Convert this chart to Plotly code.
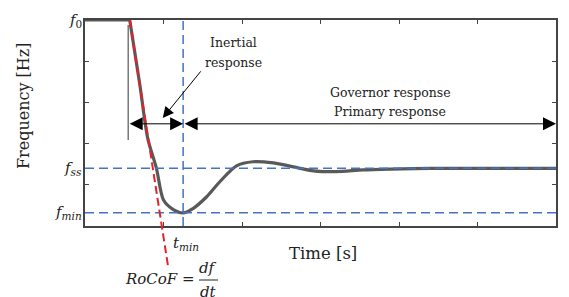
import plotly.graph_objects as go

# ---- data ----
t_flat = [0, 0.57]
f_flat = [5, 5]
t_curve = [0.57, 0.70, 0.80, 0.91, 1.00, 1.125, 1.25, 1.38, 1.55, 1.72, 1.93, 2.14, 2.40, 2.74, 2.91, 3.20, 3.54, 3.89, 4.4, 6.0]
f_curve = [5.0, 3.41, 2.12, 1.40, 0.63, 0.40, 0.32, 0.43, 0.71, 1.08, 1.46, 1.56, 1.53, 1.40, 1.34, 1.32, 1.36, 1.38, 1.40, 1.40]

F0 = 5.0
FSS = 1.40
FMIN = 0.32
T_MIN = 1.25
T_START = 0.55
T_END = 6.0
ARROW_Y = 2.48

rocof_t = [0.57, 1.06]
rocof_f = [5.0, -1.0]

marker_t = [T_START, T_START]
marker_f = [4.88, 2.09]

inertial_tail = (1.49, 3.79)
inertial_tip = (0.99, 2.62)

x_ticks = [1, 2, 3, 4, 5]
y_ticks = [1, 2, 3, 4]

# ---- layout geometry (reference pixel frame; page body has an 8px margin) ----
PAGE_OFF = 8
REF_W, REF_H = 569, 297
W, H = REF_W - PAGE_OFF, REF_H - PAGE_OFF
ML, MR, MT, MB = 85 - PAGE_OFF, 13, 20 - PAGE_OFF, 0
PW, PH = W - ML - MR, H - MT - MB
AX_BOTTOM_PX = 226
d0 = (REF_H - AX_BOTTOM_PX) / PH

def px(xp):
    return (xp - 85) / PW

def py(yp):
    return (REF_H - yp) / PH

SERIF = "DejaVu Serif"
BLUE = "#4472C4"
DASH = "9px,5px"
INK = "#222222"

fig = go.Figure()
fig.add_trace(go.Scatter(x=marker_t, y=marker_f, mode="lines",
                         line=dict(color="#555555", width=1.2), xaxis="x", yaxis="y"))
fig.add_trace(go.Scatter(x=t_flat, y=f_flat, mode="lines",
                         line=dict(color="#595959", width=3.2), xaxis="x", yaxis="y"))
fig.add_trace(go.Scatter(x=t_curve, y=f_curve, mode="lines",
                         line=dict(color="#595959", width=3.2, shape="spline", smoothing=0.8),
                         xaxis="x", yaxis="y"))
fig.add_trace(go.Scatter(x=[0, T_END], y=[FSS, FSS], mode="lines",
                         line=dict(color=BLUE, width=1.5, dash=DASH), xaxis="x", yaxis="y"))
fig.add_trace(go.Scatter(x=[0, T_END], y=[FMIN, FMIN], mode="lines",
                         line=dict(color=BLUE, width=1.5, dash=DASH), xaxis="x", yaxis="y"))
fig.add_trace(go.Scatter(x=[T_MIN, T_MIN], y=[0, F0], mode="lines",
                         line=dict(color=BLUE, width=1.5, dash=DASH), xaxis="x", yaxis="y"))
fig.add_trace(go.Scatter(x=rocof_t, y=rocof_f, mode="lines",
                         line=dict(color="#E8202A", width=2, dash="8px,4px"), xaxis="x2", yaxis="y2"))

axis_common = dict(showgrid=False, zeroline=False, showline=True, linecolor="#444444",
                   linewidth=1.5, mirror="ticks", ticks="inside", ticklen=4,
                   tickwidth=1, tickcolor="#444444", showticklabels=False)

fig.update_layout(
    width=W, height=H,
    margin=dict(l=ML, r=MR, t=MT, b=MB, pad=0),
    paper_bgcolor="white", plot_bgcolor="rgba(0,0,0,0)",
    showlegend=False,
    xaxis=dict(domain=[0, 1], range=[0, 6], tickvals=x_ticks, anchor="y", **axis_common),
    yaxis=dict(domain=[d0, 1], range=[0, 5], tickvals=y_ticks, anchor="x", **axis_common),
    xaxis2=dict(domain=[0, 1], range=[0, 6], visible=False, anchor="y2"),
    yaxis2=dict(domain=[0, 1], range=[5 - 5 / (1 - d0), 5], visible=False, anchor="x2"),
)

ann = []
arrow_common = dict(xref="x", yref="y", axref="x", ayref="y", text="", showarrow=True,
                    arrowcolor="black", arrowwidth=1, standoff=0, startstandoff=0)
ann.append(dict(x=T_MIN, y=ARROW_Y, ax=T_START, ay=ARROW_Y, arrowhead=2, startarrowhead=2,
                arrowside="end+start", arrowsize=2.6, startarrowsize=2.6, **arrow_common))
ann.append(dict(x=T_END, y=ARROW_Y, ax=T_MIN, ay=ARROW_Y, arrowhead=2, startarrowhead=2,
                arrowside="end+start", arrowsize=2.6, startarrowsize=2.6, **arrow_common))
ann.append(dict(x=inertial_tip[0], y=inertial_tip[1], ax=inertial_tail[0], ay=inertial_tail[1],
                arrowhead=2, arrowsize=2.2, **arrow_common))

def label(x, y, text, size, xref="paper", yref="paper", xanchor="center", **kw):
    ann.append(dict(x=x, y=y, xref=xref, yref=yref, text=text, showarrow=False,
                    xanchor=xanchor, yanchor="middle",
                    font=dict(family=SERIF, size=size, color=INK), **kw))

label(px(233), py(43), "Inertial", 12.5)
label(px(233), py(62), "response", 12.5)
label(px(390), py(93), "Governor response", 12.5)
label(px(390), py(112), "Primary response", 12.5)

label(0, F0, "<i>f</i><sub>0</sub>", 15, yref="y", xanchor="right", xshift=-1)
label(0, FSS, "<i>f</i><sub><i>ss</i></sub>", 15, yref="y", xanchor="right", xshift=-1)
label(0, FMIN, "<i>f</i><sub><i>min</i></sub>", 15, yref="y", xanchor="right", xshift=-1)
label(T_MIN, py(243), "<i>t</i><sub><i>min</i></sub>", 15, xref="x", xshift=3)

label(px(323), py(253), "Time [s]", 16.5)
label(px(24), py(106), "Frequency [Hz]", 16, textangle=-90)

label(px(197), py(279), "<i>RoCoF</i> =", 15, xanchor="right")
label(px(208), py(268), "<i>df</i>", 15)
label(px(208), py(292), "<i>dt</i>", 15)

fig.update_layout(annotations=ann)
fig.add_shape(type="line", xref="paper", yref="paper", x0=px(199), x1=px(218),
              y0=py(280), y1=py(280), line=dict(color=INK, width=1))

fig.write_html("out.html")
